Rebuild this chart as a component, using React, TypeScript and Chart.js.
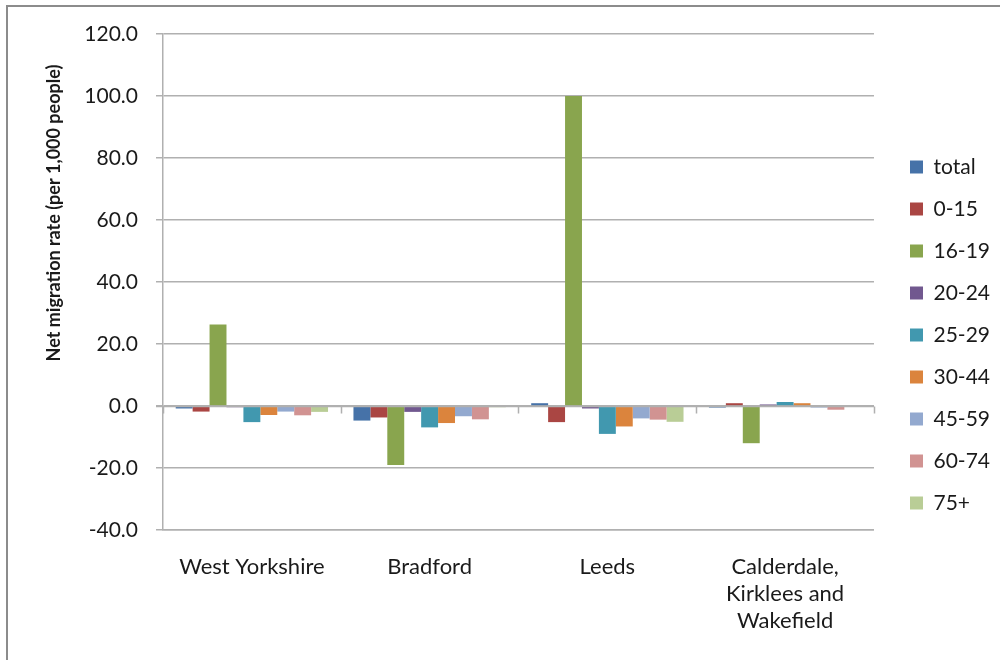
import React, { useEffect, useRef } from "react";
import { Chart, registerables } from "chart.js";

Chart.register(...registerables);

const categories: (string | string[])[] = [
  "West Yorkshire",
  "Bradford",
  "Leeds",
  ["Calderdale,", "Kirklees and", "Wakefield"],
];

const seriesNames = ["total", "0-15", "16-19", "20-24", "25-29", "30-44", "45-59", "60-74", "75+"];
const seriesColors = ["#4672A8", "#AA4643", "#89A54E", "#71588F", "#4198AF", "#DB843D", "#93A9CF", "#D19392", "#B9CD96"];

const totalValues = [-0.8, -4.7, 0.9, -0.5];
const age0to15 = [-1.8, -3.7, -5.2, 0.9];
const age16to19 = [26.3, -19.0, 100.0, -12.0];
const age20to24 = [-0.4, -1.9, -0.8, 0.5];
const age25to29 = [-5.2, -6.9, -9.0, 1.3];
const age30to44 = [-2.9, -5.5, -6.6, 0.9];
const age45to59 = [-1.8, -3.3, -4.0, -0.5];
const age60to74 = [-3.0, -4.3, -4.4, -1.2];
const age75plus = [-1.9, -0.4, -5.1, -0.1];

const seriesValues = [totalValues, age0to15, age16to19, age20to24, age25to29, age30to44, age45to59, age60to74, age75plus];

const yMin = -40;
const yMax = 120;
const yStep = 20;
const yTitle = "Net migration rate (per 1,000 people)";

const FONT = "Lato, 'DejaVu Sans', sans-serif";
const TEXT = "#1a1a1a";
const GRID = "#b0b0b0";

const decorPlugin = {
  id: "decor",
  afterDatasetsDraw(chart: any) {
    const { ctx, scales, chartArea } = chart;
    const x = scales.x;
    const y = scales.y;
    const y0 = Math.round(y.getPixelForValue(0)) + 0.5;
    const half = (x.getPixelForValue(1) - x.getPixelForValue(0)) / 2;
    ctx.save();
    ctx.strokeStyle = GRID;
    ctx.lineWidth = 1.5;
    ctx.beginPath();
    ctx.moveTo(chartArea.left - 7, y0);
    ctx.lineTo(chartArea.right, y0);
    for (let i = 0; i <= categories.length; i++) {
      const px = Math.round(x.getPixelForValue(0) - half + i * 2 * half) + 0.5;
      ctx.moveTo(px, y0);
      ctx.lineTo(px, y0 + 7);
    }
    ctx.stroke();
    ctx.restore();
  },
  afterDraw(chart: any) {
    const { ctx } = chart;
    ctx.save();
    ctx.translate(54, 213);
    ctx.rotate(-Math.PI / 2);
    ctx.font = `bold 18px ${FONT}`;
    ctx.fillStyle = TEXT;
    ctx.textAlign = "center";
    ctx.textBaseline = "middle";
    ctx.fillText(yTitle, 0, 0);
    ctx.restore();
  },
};

export default function App() {
  const canvasRef = useRef<HTMLCanvasElement | null>(null);

  useEffect(() => {
    if (!canvasRef.current) return;
    const chart = new Chart(canvasRef.current, {
      type: "bar",
      data: {
        labels: categories as any,
        datasets: seriesNames.map((name, i) => ({
          label: name,
          data: seriesValues[i],
          backgroundColor: seriesColors[i],
          borderWidth: 0,
          categoryPercentage: 0.857,
          barPercentage: 1,
        })),
      },
      options: {
        animation: false,
        responsive: true,
        maintainAspectRatio: false,
        layout: { padding: { left: 10, top: 34, right: 0, bottom: 24 } },
        plugins: {
          tooltip: { enabled: false },
          legend: {
            position: "right",
            labels: {
              font: { family: FONT, size: 21 },
              color: TEXT,
              boxWidth: 13,
              boxHeight: 13,
              padding: 21,
            },
          },
        },
        scales: {
          x: {
            grid: { display: false, drawTicks: false },
            border: { display: true, color: GRID, width: 1.5 },
            ticks: {
              font: { family: FONT, size: 22, lineHeight: 1.23 },
              color: TEXT,
              padding: 23,
              maxRotation: 0,
              autoSkip: false,
            },
            afterFit: (scale: any) => {
              scale.height = 106;
            },
          },
          y: {
            min: yMin,
            max: yMax,
            grid: { color: GRID, lineWidth: 1.5, tickLength: 7, drawTicks: true },
            border: { display: true, color: GRID, width: 1.5 },
            ticks: {
              stepSize: yStep,
              font: { family: FONT, size: 21 },
              color: TEXT,
              padding: 18,
              callback: (v: any) => Number(v).toFixed(1),
            },
            afterFit: (scale: any) => {
              scale.width = 153;
            },
          },
          y2: {
            type: "linear",
            position: "right",
            display: true,
            grid: { display: false },
            border: { display: false },
            ticks: { display: false },
            afterFit: (scale: any) => {
              scale.width = 15;
            },
          },
        },
      },
      plugins: [decorPlugin],
    });
    return () => chart.destroy();
  }, []);

  return (
    <div style={{ position: "fixed", left: 0, top: 0, width: 1000, height: 660, background: "#fff" }}>
      <div
        style={{
          position: "absolute",
          left: 6,
          top: 5,
          width: 1000,
          height: 700,
          borderTop: "2px solid #8c8c8c",
          borderLeft: "2px solid #8c8c8c",
          pointerEvents: "none",
        }}
      />
      <canvas ref={canvasRef} style={{ position: "absolute", left: 0, top: 0 }} />
    </div>
  );
}
